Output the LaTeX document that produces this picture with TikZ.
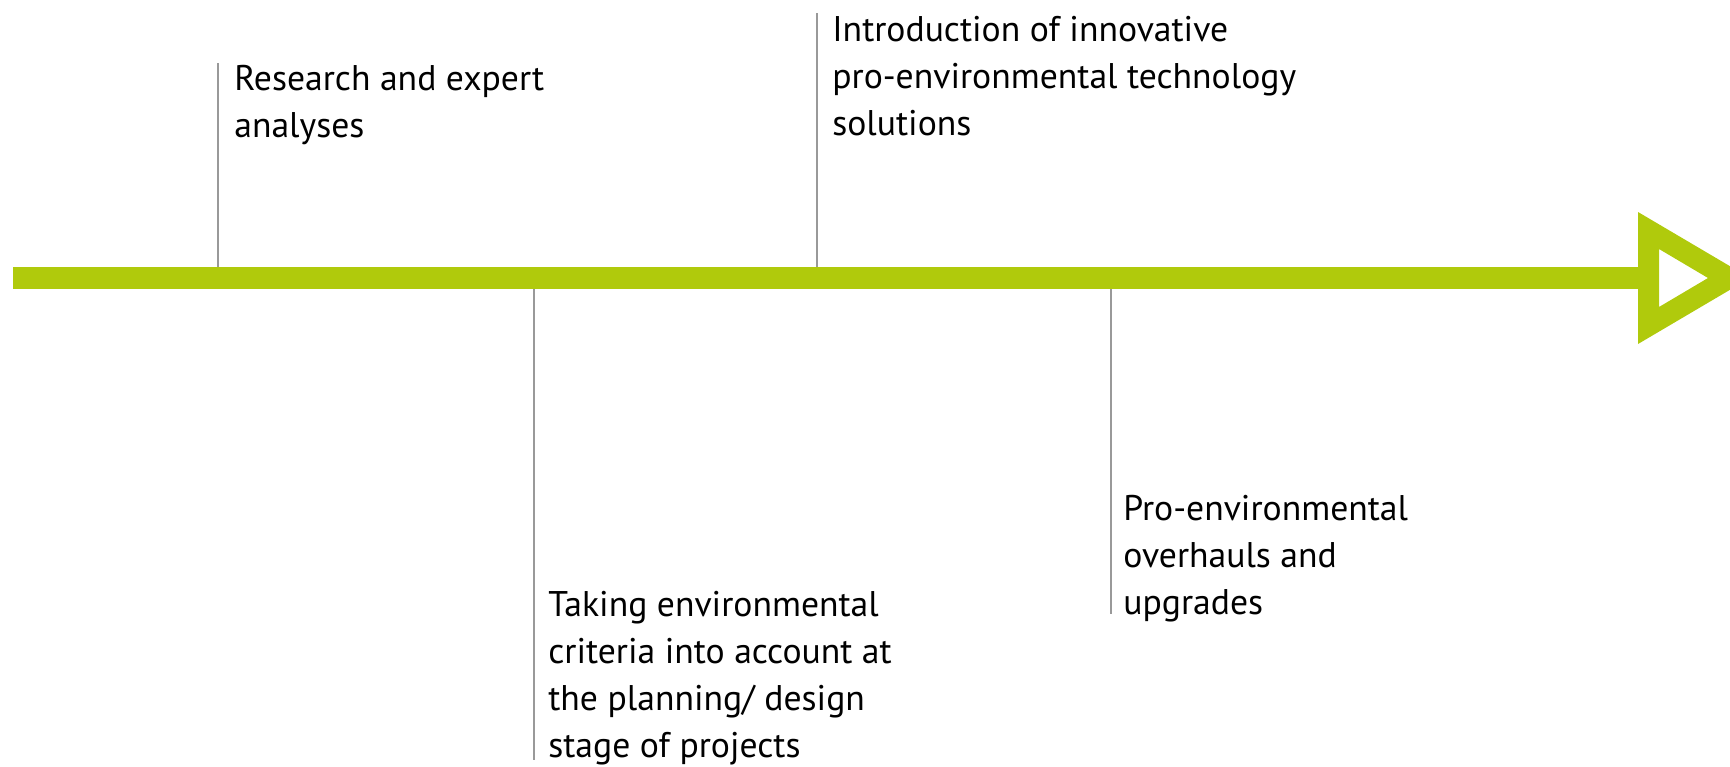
\documentclass[tikz,border=0pt]{standalone}
\usepackage{fontspec}
\setmainfont{PT Sans}
\usepackage{tikz}
\definecolor{lime}{RGB}{176,202,12}
\definecolor{tickgray}{RGB}{153,153,153}

\begin{document}
\begin{tikzpicture}[x=0.02cm, y=0.02cm]
\tikzstyle{every node}+=[inner sep=0pt]
\tikzstyle{stagetext}=[align=left, anchor=base west, font=\fontsize{20.3}{26.75}\selectfont]
\tikzstyle{ticklin}=[tickgray, line width=0.04cm]
\useasboundingbox (0,0) rectangle (1730,-767);
\clip (0,0) rectangle (1730,-767);
\draw [lime, line width=0.44cm] (13,-278) -- (1640,-278);
\fill [lime, even odd rule] (1638,-212) -- (1750,-278) -- (1638,-344) -- cycle
  (1659,-249) -- (1708,-278) -- (1659,-307) -- cycle;
\node [stagetext] (res) at (234,-137) {Research and expert\\analyses};
\node [stagetext] (intro) at (832,-135) {Introduction of innovative\\pro-environmental technology\\solutions};
\node [stagetext] (plan) at (548,-757) {Taking environmental\\criteria into account at\\the planning/ design\\stage of projects};
\node [stagetext] (upg) at (1123,-614) {Pro-environmental\\overhauls and\\upgrades};
\coordinate (res0) at (218,-267);
\coordinate (res1) at (218,-63);
\coordinate (intro0) at (817,-267);
\coordinate (intro1) at (817,-13);
\coordinate (plan0) at (534,-289);
\coordinate (plan1) at (534,-760);
\coordinate (upg0) at (1111,-289);
\coordinate (upg1) at (1111,-614);
\draw [ticklin] (res0) -- (res1);
\draw [ticklin] (intro0) -- (intro1);
\draw [ticklin] (plan0) -- (plan1);
\draw [ticklin] (upg0) -- (upg1);
\end{tikzpicture}
\end{document}
